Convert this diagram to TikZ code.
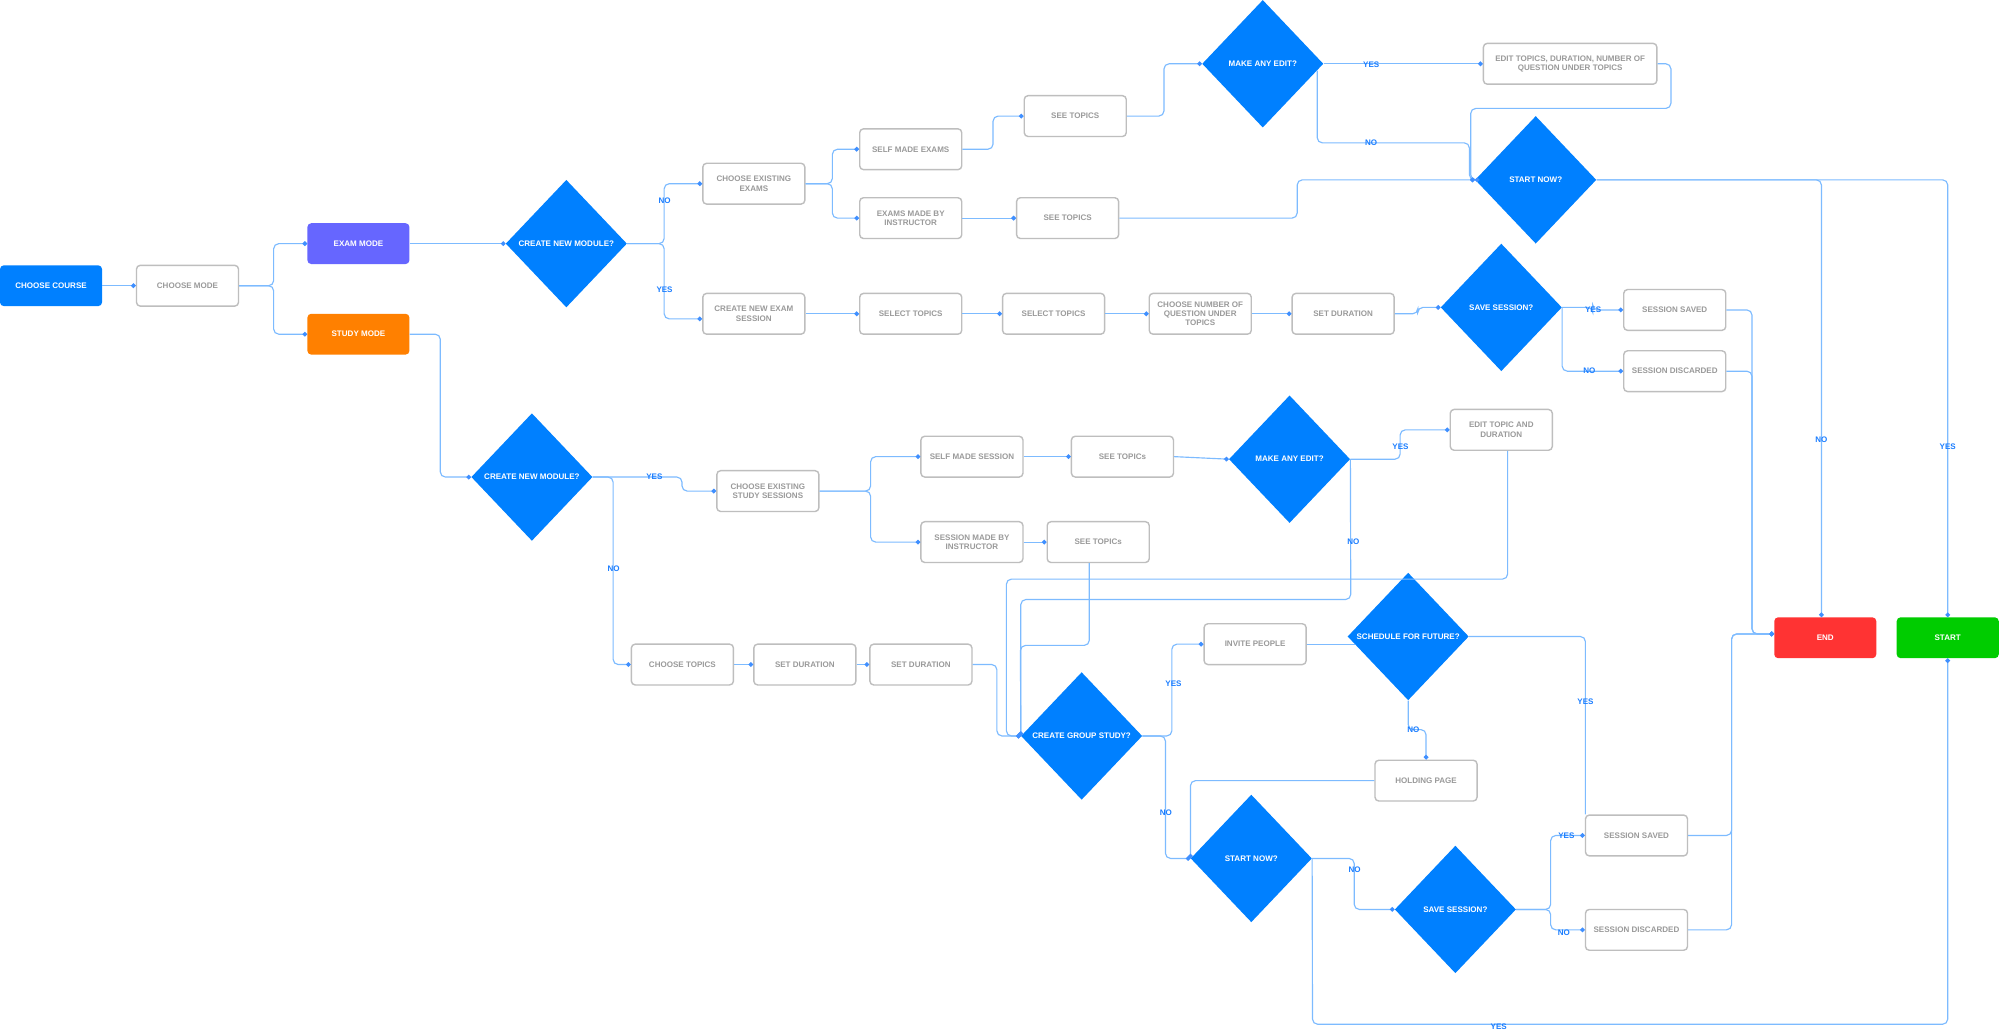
\documentclass[tikz,border=0pt]{standalone}
\usepackage{fontspec}
\setmainfont{Liberation Sans}
\usetikzlibrary{shapes.geometric,arrows.meta,calc}
\definecolor{mainblue}{HTML}{0080FF}
\definecolor{linkblue}{HTML}{7DBBFF}
\definecolor{dotblue}{HTML}{3F8FFF}
\definecolor{labblue}{HTML}{1A7DFF}
\definecolor{boxgray}{HTML}{BEBEBE}
\definecolor{txtgray}{HTML}{9A9A9A}
\definecolor{exampurple}{HTML}{6666FF}
\definecolor{studyorange}{HTML}{FF8000}
\definecolor{endred}{HTML}{FF3333}
\definecolor{startgreen}{HTML}{00CC00}
\newcommand\dfont{\fontsize{6.3}{7.3}\selectfont\bfseries}
\tikzset{
  box/.style={draw=boxgray, line width=1.1pt, rounded corners=3pt, fill=white,
    minimum width=80pt, minimum height=32pt, inner sep=1pt, align=center,
    text=txtgray, font=\dfont},
  fbox/.style={rounded corners=3pt, minimum width=80pt, minimum height=32pt,
    inner sep=1pt, text=white, font=\dfont, align=center},
  dia/.style={diamond, fill=mainblue, minimum width=95pt, minimum height=100pt,
    inner sep=0pt, text=white, font=\dfont, align=center},
  conn/.style={draw=linkblue, line width=0.9pt, rounded corners=4pt,
    -{Circle[length=3.6pt,width=3.6pt,color=dotblue]}},
  plain/.style={draw=linkblue, line width=0.9pt, rounded corners=4pt},
  lab/.style={text=labblue, font=\dfont, inner sep=0.5pt}
}
\begin{document}
\begin{tikzpicture}[x=1pt,y=-1pt]
\fill[white] (0,0) rectangle (1568,809);
\useasboundingbox (0,0) rectangle (1568,809);

% ---------- nodes ----------
\node[fbox, fill=mainblue] (course) at (40,224) {CHOOSE COURSE};
\node[box] (mode) at (147,224) {CHOOSE MODE};
\node[fbox, fill=exampurple] (exam) at (281,191) {EXAM MODE};
\node[fbox, fill=studyorange] (study) at (281,262) {STUDY MODE};
\node[dia] (cnmA) at (444,191) {CREATE NEW MODULE?};
\node[box] (cee) at (591,144) {CHOOSE EXISTING\\EXAMS};
\node[box] (sme) at (714,117) {SELF MADE EXAMS};
\node[box] (embi) at (714,171) {EXAMS MADE BY\\INSTRUCTOR};
\node[box] (stA) at (843,91) {SEE TOPICS};
\node[box] (stB) at (837,171) {SEE TOPICS};
\node[dia] (maeA) at (990,50) {MAKE ANY EDIT?};
\node[box, minimum width=136pt] (editA) at (1231,50) {EDIT TOPICS, DURATION, NUMBER OF\\QUESTION UNDER TOPICS};
\node[dia] (snA) at (1204,141) {START NOW?};
\node[box] (cnes) at (591,246) {CREATE NEW EXAM\\SESSION};
\node[box] (selA) at (714,246) {SELECT TOPICS};
\node[box] (selB) at (826,246) {SELECT TOPICS};
\node[box] (cnq) at (941,246) {CHOOSE NUMBER OF\\QUESTION UNDER\\TOPICS};
\node[box] (sdA) at (1053,246) {SET DURATION};
\node[dia] (ssA) at (1177,241) {SAVE SESSION?};
\node[box] (savedA) at (1313,243) {SESSION SAVED};
\node[box] (discA) at (1313,291) {SESSION DISCARDED};
\node[fbox, fill=endred] (endn) at (1431,500) {END};
\node[fbox, fill=startgreen] (startn) at (1527,500) {START};
\node[dia] (cnmB) at (417,374) {CREATE NEW MODULE?};
\node[box] (cess) at (602,385) {CHOOSE EXISTING\\STUDY SESSIONS};
\node[box] (sms) at (762,358) {SELF MADE SESSION};
\node[box] (smbi) at (762,425) {SESSION MADE BY\\INSTRUCTOR};
\node[box] (stC) at (880,358) {SEE TOPICs};
\node[box] (stD) at (861,425) {SEE TOPICs};
\node[dia] (maeB) at (1011,360) {MAKE ANY EDIT?};
\node[box] (editB) at (1177,337) {EDIT TOPIC AND\\DURATION};
\node[box] (ct) at (535,521) {CHOOSE TOPICS};
\node[box] (sdB) at (631,521) {SET DURATION};
\node[box] (sdC) at (722,521) {SET DURATION};
\node[dia] (cgs) at (848,577) {CREATE GROUP STUDY?};
\node[box] (inv) at (984,505) {INVITE PEOPLE};
\node[dia] (sff) at (1104,499) {SCHEDULE FOR FUTURE?};
\node[box] (hold) at (1118,612) {HOLDING PAGE};
\node[dia] (snB) at (981,673) {START NOW?};
\node[dia] (ssB) at (1141,713) {SAVE SESSION?};
\node[box] (savedB) at (1283,655) {SESSION SAVED};
\node[box] (discB) at (1283,729) {SESSION DISCARDED};

% ---------- connectors: exam branch ----------
\draw[conn] (course.east) -- (mode.west);
\draw[conn] (mode.east) -- ++(27,0) |- (exam.west);
\draw[conn] (mode.east) -- ++(27,0) |- (study.west);
\draw[conn] (exam.east) -- (cnmA.west);
\draw[conn] (cnmA.east) -- ++(29,0) |- (cee.west);
\draw[conn] (cnmA.east) -- ++(29,0) |- ([yshift=-4pt]cnes.west);
\draw[conn] (cee.east) -- ++(21,0) |- (sme.west);
\draw[conn] (cee.east) -- ++(21,0) |- (embi.west);
\draw[conn] (sme.east) -- ++(24,0) |- (stA.west);
\draw[conn] (embi.east) -- (stB.west);
\draw[conn] (stA.east) -- ++(29,0) |- (maeA.west);
\draw[conn] (maeA.east) -- (editA.west);
\draw[conn] (maeA.east) ++(-5,5.3) |- (1152,112) |- (snA.west);
\draw[conn] (editA.east) -| (1310,85) -| (1153,141) -- (snA.west);
\draw[conn] (stB.east) -| (1017,141) -- (snA.west);
\draw[conn] (snA.east) -| ([xshift=-3pt]endn.north);
\draw[conn] (snA.east) -| (startn.north);
\draw[conn] (cnes.east) -- (selA.west);
\draw[conn] (selA.east) -- (selB.west);
\draw[conn] (selB.east) -- (cnq.west);
\draw[conn] (cnq.east) -- (sdA.west);
\draw[conn] (sdA.east) -- ++(18,0) |- (ssA.west);
\draw[conn] (ssA.east) -- ++(24,0) |- (savedA.west);
\draw[conn] (ssA.east) |- (discA.west);
\draw[conn] (savedA.east) -- ++(20,0) |- ([yshift=3pt]endn.west);
\draw[conn] (discA.east) -- ++(20,0) |- ([yshift=3pt]endn.west);

% ---------- connectors: study branch ----------
\draw[conn] (study.east) -- ++(24,0) |- (cnmB.west);
\draw[conn] (cnmB.east) -- ++(70,0) |- (cess.west);
\draw[conn] (cnmB.east) -- ++(16,0) |- (ct.west);
\draw[conn] (cess.east) -- ++(40,0) |- (sms.west);
\draw[conn] (cess.east) -- ++(40,0) |- (smbi.west);
\draw[conn] (sms.east) -- (stC.west);
\draw[conn] (smbi.east) -- (stD.west);
\draw[conn] (stC.east) -- (maeB.west);
\draw[conn] (maeB.east) -- ++(39,0) |- (editB.west);
\draw[conn] (maeB.east) -- (1059,470) -| (cgs.west);
\draw[conn] ([xshift=5pt]editB.south) |- (789,454) |- (cgs.west);
\draw[conn] ([xshift=-7pt]stD.south) |- (800,506) -- (cgs.west);
\draw[conn] (ct.east) -- (sdB.west);
\draw[conn] (sdB.east) -- (sdC.west);
\draw[conn] (sdC.east) -- ++(19,0) |- (cgs.west);
\draw[conn] (cgs.east) -- ++(23,0) |- (inv.west);
\draw[conn] (cgs.east) -- ++(18,0) |- (snB.west);
\draw[plain] (inv.east) -- ($(sff.center)+(-41.8,6)$);
\draw[plain] (sff.east) -| ([xshift=0.5pt]savedB.north west);
\draw[conn] (sff.south) -- (1104,572) -| (hold.north);
\draw[conn] (hold.west) -| (snB.west);
\draw[conn] (snB.east) -- ++(33,0) |- (ssB.west);
\draw[conn] (snB.east) -- (1029,803) -| (startn.south);
\draw[conn] (ssB.east) -- ++(27,0) |- (savedB.west);
\draw[conn] (ssB.east) -- ++(27,0) |- (discB.west);
\draw[conn] (savedB.east) -- ++(34,0) |- ([yshift=3pt]endn.west);
\draw[conn] (discB.east) -- ++(34,0) |- ([yshift=3pt]endn.west);

% ---------- labels ----------
\node[lab] (l1) at (521,157) {NO};
\node[lab] (l2) at (521,227) {YES};
\node[lab] (l3) at (1075,51) {YES};
\node[lab] (l4) at (1075,112) {NO};
\node[lab] (l5) at (1428,345) {NO};
\node[lab] (l6) at (1527,350) {YES};
\node[lab] (l7) at (1249,243) {YES};
\node[lab] (l8) at (1246,291) {NO};
\node[lab] (l9) at (513,374) {YES};
\node[lab] (l10) at (481,446) {NO};
\node[lab] (l11) at (1098,350) {YES};
\node[lab] (l12) at (1061,425) {NO};
\node[lab] (l13) at (920,536) {YES};
\node[lab] (l14) at (914,637) {NO};
\node[lab] (l15) at (1243,550) {YES};
\node[lab] (l16) at (1108,572) {NO};
\node[lab] (l17) at (1062,682) {NO};
\node[lab] (l18) at (1175,805) {YES};
\node[lab] (l19) at (1228,655) {YES};
\node[lab] (l20) at (1226,731) {NO};
\end{tikzpicture}
\end{document}
